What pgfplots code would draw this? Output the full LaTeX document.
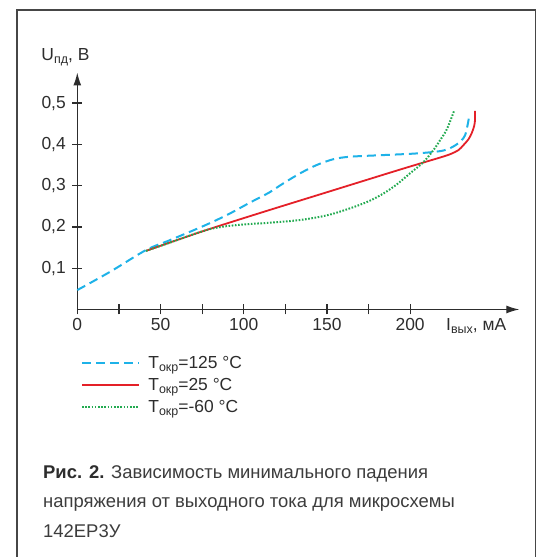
\documentclass[border=0pt]{standalone}
\usepackage{fontspec}
\setmainfont{Liberation Sans}
\usepackage{pgfplots}
\pgfplotsset{compat=1.18}
\usetikzlibrary{arrows.meta}
\definecolor{axg}{RGB}{45,45,45}
\definecolor{capg}{RGB}{60,60,60}
\definecolor{cblue}{RGB}{30,178,232}
\definecolor{cred}{RGB}{228,32,40}
\definecolor{cgreen}{RGB}{34,170,80}
\definecolor{framec}{RGB}{70,70,70}
\newcommand\sub[1]{\raisebox{-3bp}{\fontsize{12.5}{12}\selectfont #1}}
\newcommand\lbl{\fontsize{17.5}{20}\selectfont}
\newcommand\capf{\fontsize{18.5}{22}\selectfont}
\begin{document}
\begin{tikzpicture}[x=1bp,y=1bp]
\path[use as bounding box] (0,0) rectangle (539,557);
\draw[framec, line width=1.6bp] (17.2,-5) -- (17.2,547) -- (535.5,547) -- (535.5,-5);
\begin{axis}[
  at={(77.3bp,247.5bp)}, anchor=south west,
  scale only axis, width=442bp, height=237bp,
  xmin=0, xmax=265.6, ymin=0, ymax=0.574,
  axis lines=left,
  axis line style={line width=1.3bp, draw=axg},
  x axis line style={-{Latex[length=13bp,width=8bp]}},
  y axis line style={-{Latex[length=13bp,width=8bp]}},
  xtick={0,50,100,150,200}, xticklabels={0,50,100,150,200},
  minor xtick={25,75,125,175},
  ytick={0.1,0.2,0.3,0.4,0.5}, yticklabels={{0,1},{0,2},{0,3},{0,4},{0,5}},
  tick align=center, major tick length=10bp, minor tick length=10bp,
  every tick/.style={draw=axg, line width=1.2bp},
  tick label style={font=\lbl, text=axg},
  yticklabel style={xshift=-3bp},
  clip=false,
  legend style={at={(axis description cs:0.0084,-0.195)}, anchor=north west,
    draw=none, fill=none, inner sep=0pt, outer sep=0pt, row sep=5bp, column sep=8.7bp,
    font=\lbl, text=axg,
    nodes={inner sep=0pt, text height=13bp, text depth=4bp, anchor=base west}},
  legend cell align=left,
  legend image code/.code={\draw[#1] (0bp,6bp) -- (56.7bp,6bp);},
]
\addplot[cblue, line width=2bp, dash pattern=on 9bp off 5bp, smooth] coordinates {
(0,0.047) (20,0.092) (41.3,0.144) (55.7,0.168) (75.7,0.202) (90,0.229) (103.8,0.259)
(115.2,0.283) (124,0.306) (134,0.330) (143.9,0.350) (153.9,0.364) (163.9,0.370)
(184,0.374) (204,0.378) (220,0.385) (228,0.400) (233,0.422) (235.6,0.471)};
\addlegendentry{T\sub{окр}=125 °C}
\addplot[cred, line width=1.8bp, smooth] coordinates {
(41.3,0.142) (75,0.189) (110,0.234) (150,0.284) (190,0.334) (208,0.356)
(218,0.368) (224,0.376) (229,0.386) (232,0.398) (235,0.412) (237,0.427)
(238.5,0.445) (239,0.46) (239,0.481)};
\addlegendentry{T\sub{окр}=25 °C}
\addplot[cgreen, line width=2bp, dash pattern=on 1.6bp off 1.6bp, smooth] coordinates {
(41.3,0.142) (55.7,0.162) (69.7,0.182) (80,0.195) (90,0.202) (103.8,0.207)
(115.2,0.210) (133.8,0.2167) (150,0.228) (163.9,0.245) (175,0.262) (184,0.281)
(192,0.303) (200,0.33) (208,0.357) (214,0.386) (218,0.41) (222,0.436) (226.4,0.481)};
\addlegendentry{T\sub{окр}=-60 °C}
\end{axis}
\node[anchor=base west, inner sep=0pt, font=\lbl, text=axg] at (41.3,496) {U\sub{пд}, В};
\node[anchor=base west, inner sep=0pt, font=\lbl, text=axg] at (446,226) {I\sub{вых}, мА};
\node[anchor=base west, inner sep=0pt, font=\capf, text=capg] at (43,78) {\textbf{\color{axg}Рис. 2.} Зависимость минимального падения};
\node[anchor=base west, inner sep=0pt, font=\capf, text=capg] at (43,49) {напряжения от выходного тока для микросхемы};
\node[anchor=base west, inner sep=0pt, font=\capf, text=capg] at (43,19.7) {142ЕР3У};
\end{tikzpicture}
\end{document}
